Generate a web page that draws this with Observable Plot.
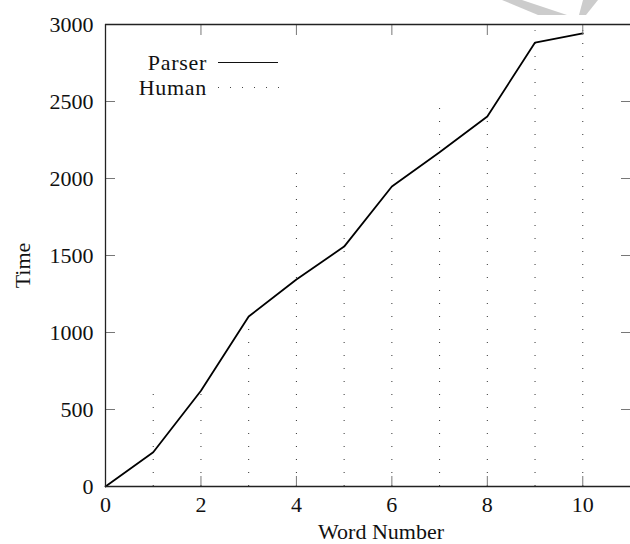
<!DOCTYPE html>
<html>
<head>
<meta charset="utf-8">
<script src="https://cdn.jsdelivr.net/npm/d3@7"></script>
<script src="https://cdn.jsdelivr.net/npm/@observablehq/plot@0.6"></script>
<style>
  html, body { margin: 0; padding: 0; background: #fff; }
  #wrap { position: relative; width: 630px; height: 544px; overflow: hidden; }
  #wm1, #wm2 { position: absolute; top: 0; left: 0; width: 630px; height: 20px; background: #cccccc; }
  #wm1 { clip-path: polygon(502px 0, 522px 0, 567px 15px, 538px 15px); }
  #wm2 { clip-path: polygon(583px 0, 598px 0, 586px 15px, 579px 15px); }
  #legend { position: absolute; left: 100px; top: 50px; font-family: "Liberation Serif", "DejaVu Serif", serif; font-size: 22px; letter-spacing: 0.7px; color: #111; }
  .row { display: flex; align-items: center; height: 25px; }
  .lab { width: 107px; text-align: right; padding-right: 11px; }
  .solid { width: 60px; height: 0; border-top: 1.3px solid #111; }
  .dots { width: 62px; height: 1px; background: repeating-linear-gradient(to right, #444 0 1px, transparent 1px 12px); }
  svg text { font-family: "Liberation Serif", "DejaVu Serif", serif; }
</style>
</head>
<body>
<div id="wrap">
  <div id="wm1"></div><div id="wm2"></div>
  <div id="chart"></div>
  <div id="legend"></div>
</div>
<script>
const wordNumber = [0, 1, 2, 3, 4, 5, 6, 7, 8, 9, 10];
const parserTime = [0, 222, 622, 1104, 1344, 1558, 1948, 2170, 2403, 2883, 2942];
const humanTime  = [0, 630, 600, 1160, 2110, 2110, 2110, 2500, 2500, 2960, 2960];
const xTicks = [0, 2, 4, 6, 8, 10];
const yTicks = [0, 500, 1000, 1500, 2000, 2500, 3000];
const seriesNames = ["Parser", "Human"];
const xLabel = "Word Number";
const yLabel = "Time";

const parser = wordNumber.map((w, i) => ({word: w, time: parserTime[i]}));
const human = wordNumber.map((w, i) => ({word: w, time: humanTime[i]}));

const chart = Plot.plot({
  width: 630,
  height: 544,
  marginLeft: 105,
  marginRight: 0,
  marginTop: 24,
  marginBottom: 58,
  style: {fontFamily: "'Liberation Serif', 'DejaVu Serif', serif", fontSize: "22px", background: "transparent", color: "#111"},
  x: {domain: [0, 11]},
  y: {domain: [0, 3000]},
  marks: [
    Plot.ruleX(human, {x: "word", y1: 0, y2: "time", stroke: "#333", strokeWidth: 1, strokeDasharray: "1 12"}),
    Plot.line(parser, {x: "word", y: "time", stroke: "#000", strokeWidth: 1.8}),
    // inward ticks on all four sides
    Plot.axisX({anchor: "bottom", ticks: xTicks, tickSize: -10, tickFormat: () => "", label: null, stroke: "#777"}),
    Plot.axisX({anchor: "top", ticks: xTicks, tickSize: -10, tickFormat: () => "", label: null, stroke: "#777"}),
    Plot.axisY({anchor: "left", ticks: yTicks, tickSize: -10, tickFormat: () => "", label: null, stroke: "#777"}),
    Plot.axisY({anchor: "right", ticks: yTicks, tickSize: -10, tickFormat: () => "", label: null, stroke: "#777"}),
    // tick labels
    Plot.axisX({anchor: "bottom", ticks: xTicks, tickSize: 0, tickPadding: 10, tickFormat: d => String(d), label: null}),
    Plot.axisY({anchor: "left", ticks: yTicks, tickSize: 0, tickPadding: 12, tickFormat: d => String(d), label: null}),
    // axis titles
    Plot.text([xLabel], {text: d => d, frameAnchor: "bottom", lineAnchor: "bottom", dy: 52, dx: 13, fontSize: 22, letterSpacing: "0.8px"}),
    Plot.text([yLabel], {text: d => d, frameAnchor: "left", textAnchor: "middle", rotate: -90, dx: -83, dy: 10, fontSize: 22, letterSpacing: "0.8px"}),
    // frame lines
    Plot.ruleX([0], {stroke: "#222", strokeWidth: 1.3}),
    Plot.ruleY([0, 3000], {stroke: "#222", strokeWidth: 1.3})
  ]
});
document.getElementById("chart").append(chart);

const legend = document.getElementById("legend");
seriesNames.forEach((name, i) => {
  const row = document.createElement("div");
  row.className = "row";
  const lab = document.createElement("span");
  lab.className = "lab";
  lab.textContent = name;
  const sw = document.createElement("span");
  sw.className = i === 0 ? "solid" : "dots";
  row.append(lab, sw);
  legend.append(row);
});
</script>
</body>
</html>
